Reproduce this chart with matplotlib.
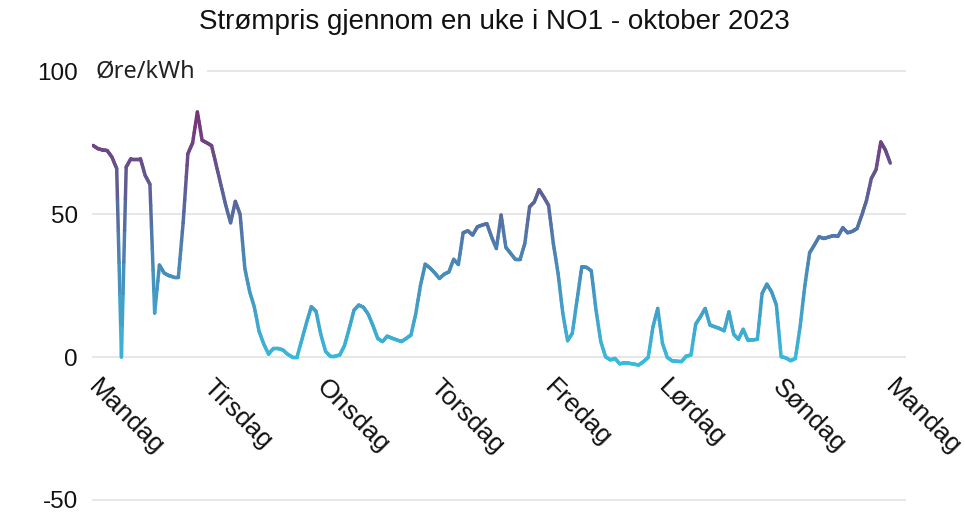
import numpy as np
import matplotlib
matplotlib.use("Agg")
import matplotlib.pyplot as plt
from matplotlib.collections import LineCollection
from matplotlib.colors import LinearSegmentedColormap, Normalize
from matplotlib.transforms import ScaledTranslation

# Hourly spot price NO1 (øre/kWh), Monday 00:00 -> next Monday 00:00
mandag = [74.1, 73, 72.5, 72.3, 70, 66, 0, 66.5, 69.5, 69.5, 69.5, 63.6,
          60.5, 15.4, 32.2, 29.4, 28.5, 28, 28, 47, 71.2, 75, 85.8, 75.9]
tirsdag = [75, 74, 67, 60, 53, 47, 54.5, 50, 31, 23, 17.5, 9,
           4.5, 1, 3, 3, 2.5, 1, 0, 0, 6, 12, 17.6, 16]
onsdag = [8, 2, 0.3, 0.3, 0.7, 4, 10, 16.4, 18.2, 17.4, 15, 11,
          6.5, 5.4, 7.3, 6.6, 6, 5.4, 6.5, 7.7, 15, 25, 32.5, 31.2]
torsdag = [29.5, 27.5, 29, 29.8, 34.2, 32.4, 43.5, 44.2, 42.7, 45.6, 46.2, 46.7,
           42, 38, 49.7, 38.4, 36.3, 34.2, 34.2, 39.8, 52.6, 54.3, 58.6, 56]
fredag = [53.1, 39.8, 29.3, 15.3, 5.7, 8.3, 20, 31.6, 31.4, 30.2, 16.4, 5.4,
          0.1, -1, -0.5, -2.4, -2, -2.2, -2.5, -2.8, -1.6, -0.1, 10.6, 17]
lordag = [4.8, -0.1, -1.3, -1.5, -1.6, 0.3, 0.7, 11.5, 14.1, 17, 11.2, 10.6,
          10, 9.2, 15.8, 8, 6.2, 9.7, 5.9, 6, 6.2, 22.3, 25.5, 22.8]
sondag = [18.2, 0.1, -0.3, -1.3, -0.5, 10.6, 25, 36.5, 39.2, 42.1, 41.5, 42,
          42.5, 42.3, 45.3, 43.5, 44, 45, 49.7, 54.9, 62.5, 65.6, 75.3, 72.4]
neste_mandag = [67.9]

day_labels = ["Mandag", "Tirsdag", "Onsdag", "Torsdag", "Fredag", "Lørdag", "Søndag", "Mandag"]
y_ticks = [-50, 0, 50, 100]
title = "Strømpris gjennom en uke i NO1 - oktober 2023"
unit = "Øre/kWh"

prices = np.array(mandag + tirsdag + onsdag + torsdag + fredag + lordag + sondag + neste_mandag)
hours = np.arange(len(prices))

fig = plt.figure(figsize=(9.65, 5.12), dpi=100)
ax = fig.add_axes([0.0953, 0.0155, 0.8435, 0.8533])
ax.set_xlim(-0.21, 171.3)
ax.set_ylim(-51.5, 101.5)

cmap = LinearSegmentedColormap.from_list(
    "pris", [(0.0, "#38bcdc"), (0.35, "#4690bd"), (0.62, "#58689c"), (1.0, "#7b3076")])
norm = Normalize(vmin=-3, vmax=87)
sub = 6
t = np.linspace(0, len(hours) - 1, (len(hours) - 1) * sub + 1)
fine_x = np.interp(t, np.arange(len(hours)), hours)
fine_y = np.interp(t, np.arange(len(hours)), prices)
fp = np.column_stack([fine_x, fine_y]).reshape(-1, 1, 2)
fsegs = np.concatenate([fp[:-1], fp[1:]], axis=1)
lc = LineCollection(fsegs, cmap=cmap, norm=norm, linewidth=2.5, capstyle="round", joinstyle="round")
lc.set_array((fine_y[:-1] + fine_y[1:]) / 2)
ax.add_collection(lc)

ax.set_yticks(y_ticks)
ax.set_yticklabels([str(v) for v in y_ticks])
ax.yaxis.grid(True, color="#e3e3e3", linewidth=1.2)
ax.set_axisbelow(True)
for s in ["left", "right", "top"]:
    ax.spines[s].set_visible(False)
ax.spines["bottom"].set_position(("data", 0))
ax.spines["bottom"].set_visible(False)
ax.tick_params(axis="y", length=0, pad=10, labelsize=17.5, labelcolor="#111111")
ax.tick_params(axis="x", length=0, pad=13, labelsize=19, labelcolor="#111111")
ax.set_xticks(np.arange(0, len(day_labels) * 24, 24))
ax.set_xticklabels(day_labels)
shift = ScaledTranslation(8 / 100, 0, fig.dpi_scale_trans)
for lab in ax.get_xticklabels():
    lab.set_rotation(-45)
    lab.set_ha("left")
    lab.set_va("top")
    lab.set_rotation_mode("anchor")
    lab.set_transform(lab.get_transform() + shift)
for lab in ax.get_xticklabels() + ax.get_yticklabels():
    lab.set_fontfamily("Liberation Sans")

ax.text(0.6, 100, unit, ha="left", va="center", fontsize=17, family="Noto Sans",
        color="#222222", bbox=dict(facecolor="white", edgecolor="none", pad=8), zorder=3)

fig.text(0.512, 0.957, title, ha="center", va="center", fontsize=20,
         family="Liberation Sans", color="#111111")

fig.savefig("out.png", dpi=100)
